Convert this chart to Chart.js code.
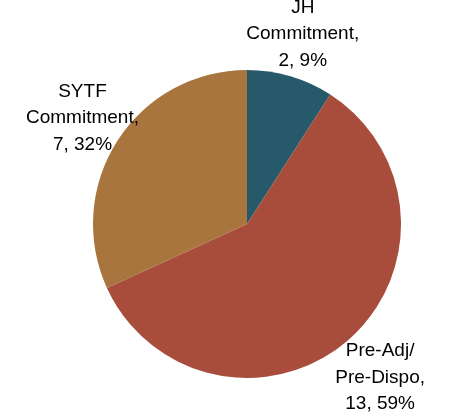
<!DOCTYPE html>
<html>
<head>
<meta charset="utf-8">
<script src="https://cdn.jsdelivr.net/npm/chart.js@4/dist/chart.umd.min.js"></script>
<style>
html,body{margin:0;padding:0;background:#fff;}
#wrap{width:452px;height:412px;position:relative;}
</style>
</head>
<body>
<div id="wrap"><canvas id="c" width="452" height="412"></canvas></div>
<script>
const categories = ["JH Commitment", "Pre-Adj/ Pre-Dispo", "SYTF Commitment"];
const labelLines = [["JH", "Commitment,"], ["Pre-Adj/", "Pre-Dispo,"], ["SYTF", "Commitment,"]];
const values = [2, 13, 7];
const percents = ["9%", "59%", "32%"];
const colors = ["#265a6a", "#a84c3b", "#a8753e"];
const labelDistance = [1.285, 1.32, 1.27];

const labelPlugin = {
  id: "sliceLabels",
  afterDatasetsDraw(chart) {
    const ctx = chart.ctx;
    const meta = chart.getDatasetMeta(0);
    ctx.save();
    ctx.font = "19px 'Liberation Sans', Arial, sans-serif";
    ctx.fillStyle = "#000";
    ctx.textAlign = "center";
    ctx.textBaseline = "middle";
    const lh = 26.5;
    meta.data.forEach((arc, i) => {
      const p = arc.getProps(["x", "y", "startAngle", "endAngle", "outerRadius"], true);
      const mid = (p.startAngle + p.endAngle) / 2;
      const d = p.outerRadius * labelDistance[i];
      const cx = p.x + Math.cos(mid) * d;
      const cy = p.y + Math.sin(mid) * d;
      const lines = labelLines[i].concat([values[i] + ", " + percents[i]]);
      const y0 = cy - (lines.length - 1) * lh / 2;
      lines.forEach((t, k) => ctx.fillText(t, cx, y0 + k * lh));
    });
    ctx.restore();
  }
};

new Chart(document.getElementById("c"), {
  type: "pie",
  data: {
    labels: categories,
    datasets: [{
      data: values,
      backgroundColor: colors,
      borderWidth: 0
    }]
  },
  options: {
    responsive: false,
    animation: false,
    layout: { padding: { top: 70, bottom: 34, left: 93, right: 51 } },
    plugins: { legend: { display: false }, tooltip: { enabled: false } }
  },
  plugins: [labelPlugin]
});
</script>
</body>
</html>
